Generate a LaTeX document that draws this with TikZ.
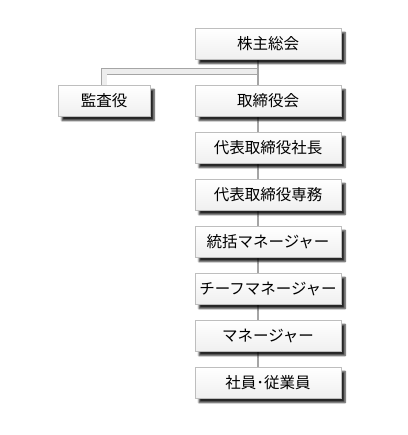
\documentclass[tikz,border=0pt]{standalone}
\usepackage{fontspec}
\newfontfamily\jpfont{Noto Sans CJK JP}
\usepackage{tikz}
\usetikzlibrary{shadows, shadows.blur, positioning, calc, backgrounds}
\definecolor{frame}{RGB}{190, 190, 190}
\definecolor{wire}{RGB}{165, 165, 165}
\tikzset{
    base/.style={text centered, font=\jpfont\fontsize{15.5pt}{17pt}\selectfont},
    post/.style={base, rectangle, minimum width=146pt, minimum height=31pt, draw=frame, top color=white, bottom color=black!6,
        blur shadow={shadow xshift=4pt, shadow yshift=-4pt, shadow opacity=85, shadow blur steps=6}},
    side/.style={post, minimum width=92pt},
    trunk/.style={line width=1.6pt, color=wire},
    branch/.style={draw=wire, line width=0.8pt, double=black!7, double distance=5pt}
}
\begin{document}
\begin{tikzpicture}[node distance=47pt]
        \useasboundingbox (0,0) rectangle (407pt,-435pt);
        % -- Top of the company --
        \node (gm) [post] at (268pt,-44pt) {株主総会};
        \node (board) [post, below of=gm, yshift=-10pt] {取締役会};
        \node (audit) [side, left of=board, xshift=-117pt] {監査役};

        % -- Line of command --
        \node (pres) [post, below of=board] {代表取締役社長};
        \node (md) [post, below of=pres] {代表取締役専務};
        \node (gmgr) [post, below of=md] {統括マネージャー};
        \node (chief) [post, below of=gmgr] {チーフマネージャー};
        \node (mgr) [post, below of=chief] {マネージャー};
        \node (staff) [post, below of=mgr] {社員･従業員};

        % Connectors
        \coordinate (top) at ([xshift=-10pt]gm.south);
        \coordinate (bottom) at ([xshift=-10pt]staff.north);
        \coordinate (split) at ($(top)+(0,-12pt)$);
        \begin{scope}[on background layer]
            \draw [branch] (split) -| (audit.north);
            \draw [trunk] (top) -- (bottom);
        \end{scope}
    \end{tikzpicture}
\end{document}
